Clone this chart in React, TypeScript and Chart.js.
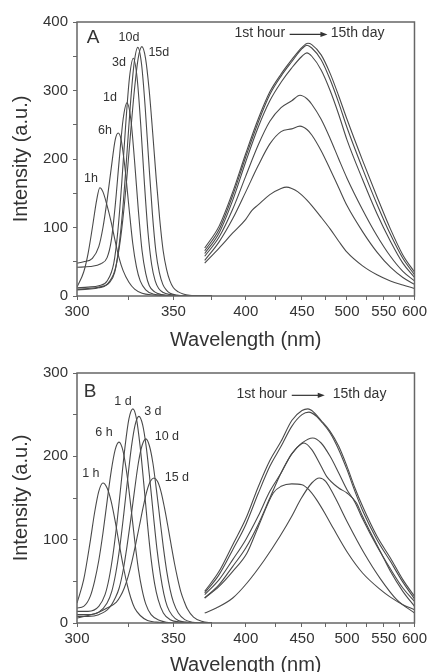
import React, { useEffect, useRef } from "react";
import { Chart, registerables } from "chart.js";

Chart.register(...registerables);

const FONT = '"Liberation Sans", Arial, Helvetica, sans-serif';
const TEXT = "#333333";
const LINE = "#4a4a4a";
const FRAME = "#666666";

// Wavelength tick marks (nm); the axis is linear in wavenumber
const xMajor = [300, 350, 400, 450, 500, 550, 600];
const xMinor = [325, 375, 425, 475, 525, 575];

type Pt = [number, number]; // [wavelength nm, intensity a.u.]

// ---------- Panel A : excitation ----------
const aEx1h: Pt[] = [[300,13],[303,35],[305,62],[307,100],[309,140],[310.5,158],[312,152],[314,132],[316,108],[318,80],[320,55],[322,37],[325,20],[328,10],[332,4],[338,1.5],[345,0.5],[350,0],[375,0]];
const aEx6h: Pt[] = [[300,48],[303,50],[307,55],[310,72],[312,100],[314,140],[316,186],[318,228],[319.5,238],[321,228],[323,186],[325,130],[327,77],[329,42],[331,22],[334,9],[338,3],[345,1],[355,0],[375,0]];
const aEx1d: Pt[] = [[300,42],[306,43],[311,47],[314,56],[316,80],[318,132],[320,198],[322,258],[324,282],[326,258],[328,196],[330,125],[332,66],[334,33],[336,15],[339,6],[343,2],[350,0],[375,0]];
const aEx3d: Pt[] = [[300,12],[305,13],[310,15],[314,22],[317.3,48],[319.3,94],[321.3,165],[323.3,249],[325.3,319],[327.3,347],[329.3,319],[331.3,249],[333.3,164],[335.3,92],[337.3,46],[339.3,22],[341.3,11],[344,5],[348,2],[355,0],[375,0]];
const aEx10d: Pt[] = [[300,10],[305,11],[310,13],[315,19],[317.7,34],[319.7,68],[321.7,123],[323.7,197],[325.7,277],[327.7,339],[329.7,363],[331.7,339],[333.7,276],[335.7,196],[337.7,121],[339.7,65],[341.7,34],[343.7,17],[345.7,9],[348,4],[352,1.5],[358,0],[375,0]];
const aEx15d: Pt[] = [[300,9],[305,10],[310,12],[314,17],[317.9,38],[319.9,68],[321.9,113],[323.9,172],[325.9,239],[327.9,301],[329.9,347],[331.9,364],[333.9,347],[335.9,301],[337.9,238],[339.9,171],[341.9,112],[343.9,66],[345.9,39],[347.9,22],[350,12],[353,6],[356,3],[360,1],[366,0],[375,0]];

// ---------- Panel A : emission ----------
const aEm1: Pt[] = [[370,70],[380,102],[390,152],[400,208],[410,258],[420,298],[430,324],[440,345],[450,363],[456,369],[460,367],[470,352],[480,325],[490,292],[500,258],[520,198],[540,145],[560,98],[580,60],[600,35]];
const aEm2: Pt[] = [[370,66],[380,97],[390,147],[400,203],[410,253],[420,294],[430,321],[440,342],[450,361],[455,366],[460,362],[470,345],[480,316],[490,282],[500,246],[520,186],[540,134],[560,90],[580,55],[600,31]];
const aEm3: Pt[] = [[370,62],[380,92],[390,140],[400,196],[410,246],[420,285],[430,312],[440,333],[450,350],[455,355],[460,350],[470,330],[480,300],[490,265],[500,228],[520,170],[540,120],[560,80],[580,48],[600,27]];
const aEm4: Pt[] = [[370,58],[380,86],[390,127],[400,175],[410,220],[420,255],[430,275],[440,285],[448,293],[455,288],[460,280],[470,258],[480,230],[490,200],[500,172],[520,126],[540,88],[560,58],[580,36],[600,22]];
const aEm5: Pt[] = [[370,52],[380,79],[390,113],[400,152],[410,190],[420,222],[430,240],[440,244],[448,248],[455,243],[460,235],[470,212],[480,185],[490,158],[500,132],[520,94],[540,64],[560,42],[580,27],[600,17]];
const aEm6: Pt[] = [[370,48],[380,70],[390,92],[400,112],[405,125],[410,133],[420,148],[430,157],[435,159],[440,157],[446,152],[455,140],[460,132],[470,115],[480,98],[490,80],[500,64],[520,44],[540,31],[560,22],[580,16],[600,11]];

// ---------- Panel B : excitation ----------
const bEx1h: Pt[] = [[300,24],[303,52],[306,98],[308,132],[310,158],[312,168],[314,162],[316,146],[318,122],[320,95],[322,69],[324,47],[326,30],[328,18],[331,9],[335,3],[340,1],[346,0],[375,0]];
const bEx6h: Pt[] = [[300,18],[303,20],[306,32],[308,50],[310,75],[312,108],[314,146],[316,182],[318,208],[319.9,217],[322,206],[324,178],[326,140],[328,100],[330,65],[332,40],[334,23],[337,10],[342,3],[350,0],[375,0]];
const bEx1d: Pt[] = [[300,14],[305,14],[310,20],[313,34],[315,54],[317,84],[319,123],[321,168],[323,212],[325,245],[327.1,257],[329,245],[331,211],[333,166],[335,118],[337,77],[339,47],[341,28],[344,12],[348,4],[355,1],[362,0],[375,0]];
const bEx3d: Pt[] = [[300,10],[305,10],[310,13],[314,24],[316.3,38],[318.3,60],[320.3,91],[322.3,130],[324.3,172],[326.3,211],[328.3,238],[330.3,248],[332.3,238],[334.3,211],[336.3,172],[338.3,129],[340.3,89],[342.3,58],[344.3,35],[346.3,20],[349.3,9],[353,3],[358,1],[365,0],[375,0]];
const bEx10d: Pt[] = [[300,8],[305,8],[310,10],[315,18],[318,30],[320,42],[322,63],[324,92],[326,125],[328,160],[330,192],[332,213],[334.1,221],[336,213],[338,192],[340,160],[342,125],[344,91],[346,62],[348,40],[350,25],[353,12],[357,4],[362,1],[370,0],[375,0]];
const bEx15d: Pt[] = [[300,6],[305,9],[310,13],[314,18],[318.6,25],[320.6,32],[322.6,42],[324.6,56],[326.6,74],[328.6,95],[330.6,117],[332.6,139],[334.6,158],[336.6,170],[338.6,174],[340.6,170],[342.6,158],[344.6,139],[346.6,117],[348.6,94],[350.6,72],[352.6,53],[354.6,37],[356.6,26],[358.6,17],[362.6,7],[368,2],[375,0]];

// ---------- Panel B : emission ----------
const bEm1: Pt[] = [[370,38],[380,62],[390,94],[400,125],[410,163],[420,195],[430,218],[440,243],[450,255],[456,257],[460,255],[470,243],[480,230],[490,212],[500,188],[510,162],[520,140],[540,104],[560,78],[580,52],[600,32]];
const bEm2: Pt[] = [[370,36],[380,58],[390,88],[400,118],[410,155],[420,188],[430,212],[440,236],[450,250],[457,253],[465,248],[470,242],[480,228],[490,208],[500,184],[510,158],[520,135],[540,100],[560,74],[580,49],[600,29]];
const bEm3: Pt[] = [[370,30],[380,46],[390,68],[400,90],[410,118],[420,150],[430,180],[440,203],[450,216],[461,222],[470,216],[480,200],[490,180],[500,160],[510,145],[520,125],[540,92],[560,65],[580,42],[600,26]];
const bEm4: Pt[] = [[370,34],[380,52],[390,76],[400,100],[410,128],[420,158],[430,180],[440,203],[452,216],[460,208],[470,188],[476,176],[490,162],[500,156],[512,144],[520,128],[530,110],[546,84],[560,62],[580,38],[600,20]];
const bEm5: Pt[] = [[370,30],[380,44],[390,62],[401,84],[410,115],[423,156],[430,164],[440,167],[450,166],[457,160],[465,148],[475,130],[484,113],[501,84],[520,60],[545,40],[560,31],[580,22],[600,16]];
const bEm6: Pt[] = [[370,12],[378,18],[390,30],[401,48],[415,75],[429,104],[440,128],[449,149],[460,168],[468,174],[475,170],[485,152],[501,120],[522,84],[545,53],[570,28],[600,12]];

// ---------- annotations (positions in wavelength / intensity) ----------
type Label = { text: string; nm: number; v: number };
const labelsA: Label[] = [
  { text: "1h", nm: 306.3, v: 172 },
  { text: "6h", nm: 313.0, v: 242 },
  { text: "1d", nm: 315.4, v: 290 },
  { text: "3d", nm: 319.9, v: 341 },
  { text: "10d", nm: 325.0, v: 378 },
  { text: "15d", nm: 341.4, v: 355 },
];
const labelsB: Label[] = [
  { text: "1 h", nm: 306.3, v: 179 },
  { text: "6 h", nm: 312.5, v: 228 },
  { text: "1 d", nm: 321.9, v: 266 },
  { text: "3 d", nm: 338.0, v: 254 },
  { text: "10 d", nm: 346.1, v: 224 },
  { text: "15 d", nm: 352.1, v: 174 },
];
const letterA: Label = { text: "A", nm: 307.3, v: 377 };
const letterB: Label = { text: "B", nm: 305.9, v: 278 };
const arrowA = { from: "1st hour", fromNm: 411.4, startNm: 438, endNm: 477, to: "15th day", toNm: 513.4, v: 384 };
const arrowB = { from: "1st hour", fromNm: 413.0, startNm: 440, endNm: 474, to: "15th day", toNm: 516.0, v: 275 };

const toWn = (nm: number) => -1e7 / nm;

type PanelSpec = {
  ex: Pt[][];
  em: Pt[][];
  yMax: number;
  padTop: number;
  padRight: number;
  xHeight: number;
  xTitlePad: number;
  labels: Label[];
  letter: Label;
  arrow: typeof arrowA;
};

function makeChart(canvas: HTMLCanvasElement, p: PanelSpec) {
  const datasets = [...p.ex, ...p.em].map((curve) => ({
    data: curve.map(([nm, v]) => ({ x: toWn(nm), y: v })),
    borderColor: LINE,
    borderWidth: 1.1,
    pointRadius: 0,
    fill: false,
    cubicInterpolationMode: "monotone" as const,
  }));

  const decor = {
    id: "decor",
    afterDraw(chart: any) {
      const { ctx, chartArea: a, scales } = chart;
      const xs = scales.x;
      const ys = scales.y;
      const px = (nm: number) => xs.getPixelForValue(toWn(nm));
      const py = (v: number) => ys.getPixelForValue(v);
      ctx.save();
      ctx.strokeStyle = FRAME;
      ctx.lineWidth = 1.5;
      ctx.strokeRect(a.left, a.top, a.right - a.left, a.bottom - a.top);

      ctx.fillStyle = TEXT;
      ctx.textAlign = "center";
      ctx.textBaseline = "middle";
      ctx.font = `19px ${FONT}`;
      ctx.fillText(p.letter.text, px(p.letter.nm), py(p.letter.v));

      ctx.font = `12.5px ${FONT}`;
      p.labels.forEach((l) => ctx.fillText(l.text, px(l.nm), py(l.v)));

      ctx.font = `14px ${FONT}`;
      const ay = py(p.arrow.v);
      ctx.fillText(p.arrow.from, px(p.arrow.fromNm), ay);
      ctx.fillText(p.arrow.to, px(p.arrow.toNm), ay);
      const x1 = px(p.arrow.startNm);
      const x2 = px(p.arrow.endNm);
      const yA = ay + 1.5;
      ctx.strokeStyle = TEXT;
      ctx.lineWidth = 1.2;
      ctx.beginPath();
      ctx.moveTo(x1, yA);
      ctx.lineTo(x2 - 5, yA);
      ctx.stroke();
      ctx.beginPath();
      ctx.moveTo(x2, yA);
      ctx.lineTo(x2 - 7, yA - 2.6);
      ctx.lineTo(x2 - 7, yA + 2.6);
      ctx.closePath();
      ctx.fill();
      ctx.restore();
    },
  };

  return new Chart(canvas, {
    type: "line",
    data: { datasets },
    options: {
      animation: false,
      responsive: false,
      devicePixelRatio: 1,
      events: [],
      layout: { padding: { top: p.padTop, right: p.padRight, left: 0, bottom: 0 } },
      plugins: { legend: { display: false }, tooltip: { enabled: false } },
      scales: {
        x: {
          type: "linear",
          min: toWn(300),
          max: toWn(600),
          afterBuildTicks: (s: any) => {
            s.ticks = [...xMajor, ...xMinor]
              .sort((a, b) => a - b)
              .map((nm) => ({ value: toWn(nm) }));
          },
          ticks: {
            autoSkip: false,
            maxRotation: 0,
            minRotation: 0,
            padding: 3,
            color: TEXT,
            font: { family: FONT, size: 15 },
            callback: (v: any) => {
              const nm = Math.round(-1e7 / Number(v));
              return xMajor.includes(nm) ? String(nm) : "";
            },
          },
          grid: { drawOnChartArea: false, drawTicks: true, tickLength: 4, color: FRAME, lineWidth: 1 },
          border: { display: false },
          title: {
            display: true,
            text: "Wavelength (nm)",
            color: TEXT,
            font: { family: FONT, size: 20 },
            padding: { top: 0, bottom: p.xTitlePad },
          },
          afterFit: (s: any) => {
            s.height = p.xHeight;
          },
        },
        y: {
          type: "linear",
          min: 0,
          max: p.yMax,
          ticks: {
            stepSize: 50,
            padding: 5,
            color: TEXT,
            font: { family: FONT, size: 15 },
            callback: (v: any) => (Number(v) % 100 === 0 ? String(v) : ""),
          },
          grid: { drawOnChartArea: false, drawTicks: true, tickLength: 4, color: FRAME, lineWidth: 1 },
          border: { display: false },
          title: {
            display: true,
            text: "Intensity (a.u.)",
            color: TEXT,
            font: { family: FONT, size: 20 },
            padding: { top: 9, bottom: 0 },
          },
          afterFit: (s: any) => {
            s.width = 77;
          },
        },
      },
    },
    plugins: [decor],
  } as any);
}

export default function App() {
  const refA = useRef<HTMLCanvasElement>(null);
  const refB = useRef<HTMLCanvasElement>(null);

  useEffect(() => {
    const cA = makeChart(refA.current!, {
      ex: [aEx1h, aEx6h, aEx1d, aEx3d, aEx10d, aEx15d],
      em: [aEm1, aEm2, aEm3, aEm4, aEm5, aEm6],
      yMax: 400,
      padTop: 22,
      padRight: 15,
      xHeight: 60,
      xTitlePad: 4,
      labels: labelsA,
      letter: letterA,
      arrow: arrowA,
    });
    const cB = makeChart(refB.current!, {
      ex: [bEx1h, bEx6h, bEx1d, bEx3d, bEx10d, bEx15d],
      em: [bEm1, bEm2, bEm3, bEm4, bEm5, bEm6],
      yMax: 300,
      padTop: 17,
      padRight: 14,
      xHeight: 63,
      xTitlePad: 9,
      labels: labelsB,
      letter: letterB,
      arrow: arrowB,
    });
    return () => {
      cA.destroy();
      cB.destroy();
    };
  }, []);

  return (
    <div
      style={{
        position: "absolute",
        left: 0,
        top: 0,
        width: 430,
        height: 672,
        overflow: "hidden",
        background: "#ffffff",
      }}
    >
      <canvas ref={refA} width={430} height={356} style={{ position: "absolute", left: 0, top: 0, display: "block" }} />
      <canvas ref={refB} width={430} height={330} style={{ position: "absolute", left: 0, top: 356, display: "block" }} />
    </div>
  );
}
